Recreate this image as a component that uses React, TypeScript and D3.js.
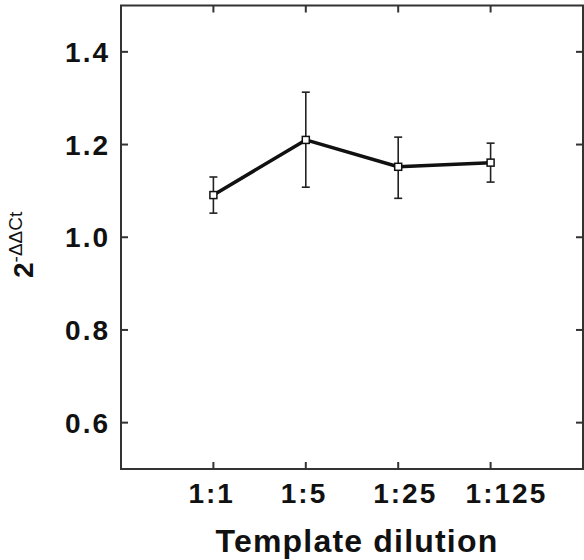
import * as d3 from "d3";

const categories = ["1:1", "1:5", "1:25", "1:125"];
const means = [1.091, 1.21, 1.152, 1.161];
const upper = [1.13, 1.313, 1.216, 1.203];
const lower = [1.052, 1.108, 1.084, 1.119];
const yTicks = [0.6, 0.8, 1.0, 1.2, 1.4];

const W = 584;
const H = 560;
const font = "'Liberation Sans', Arial, sans-serif";

export default function App() {
  const x = d3.scaleLinear().domain([0, 5]).range([121, 583]);
  const y = d3.scaleLinear().domain([0.5, 1.5]).range([469, 5.5]);
  const tickLen = 7;
  const pts: [number, number][] = means.map((m, i) => [x(i + 1), y(m)]);
  const line = d3.line();

  return (
    <svg width={W} height={H} style={{ position: "absolute", left: 0, top: 0, background: "#fff" }}>
      {/* frame */}
      <rect x={x(0)} y={y(1.5)} width={x(5) - x(0)} height={y(0.5) - y(1.5)} fill="none" stroke="#333" strokeWidth={2} />

      {/* x ticks, top and bottom, inward */}
      {categories.map((c, i) => (
        <g key={c}>
          <line x1={x(i + 1)} x2={x(i + 1)} y1={y(0.5)} y2={y(0.5) - tickLen} stroke="#333" strokeWidth={2} />
          <line x1={x(i + 1)} x2={x(i + 1)} y1={y(1.5)} y2={y(1.5) + tickLen} stroke="#333" strokeWidth={2} />
          <text x={x(i + 1) - 25} y={503} fontFamily={font} fontWeight="bold" fontSize={28} letterSpacing={2} fill="#111">
            {c}
          </text>
        </g>
      ))}

      {/* y ticks, left and right, inward */}
      {yTicks.map((t) => (
        <g key={t}>
          <line x1={x(0)} x2={x(0) + tickLen} y1={y(t)} y2={y(t)} stroke="#333" strokeWidth={2} />
          <line x1={x(5)} x2={x(5) - tickLen} y1={y(t)} y2={y(t)} stroke="#333" strokeWidth={2} />
          <text x={110} y={y(t)} dy="0.36em" textAnchor="end" fontFamily={font} fontWeight="bold" fontSize={28} letterSpacing={2} fill="#111">
            {t.toFixed(1)}
          </text>
        </g>
      ))}

      {/* error bars */}
      {means.map((m, i) => (
        <g key={i} stroke="#222" strokeWidth={1.6}>
          <line x1={x(i + 1)} x2={x(i + 1)} y1={y(upper[i])} y2={y(lower[i])} />
          <line x1={x(i + 1) - 4} x2={x(i + 1) + 4} y1={y(upper[i])} y2={y(upper[i])} />
          <line x1={x(i + 1) - 4} x2={x(i + 1) + 4} y1={y(lower[i])} y2={y(lower[i])} />
        </g>
      ))}

      {/* mean line */}
      <path d={line(pts) || ""} fill="none" stroke="#111" strokeWidth={3.5} strokeLinejoin="round" />

      {/* open square markers */}
      {pts.map(([px, py], i) => (
        <rect key={i} x={px - 3.5} y={py - 3.5} width={7} height={7} fill="#fff" stroke="#111" strokeWidth={1.5} />
      ))}

      {/* axis titles */}
      <text x={357} y={552} textAnchor="middle" fontFamily={font} fontWeight="bold" fontSize={32} letterSpacing={1.2} fill="#111">
        Template dilution
      </text>
      <text transform="translate(33,278) rotate(-90)" fontFamily={font} fill="#111">
        <tspan fontWeight="bold" fontSize={28}>2</tspan>
        <tspan fontSize={19} dy={-11}>-ΔΔCt</tspan>
      </text>
    </svg>
  );
}
